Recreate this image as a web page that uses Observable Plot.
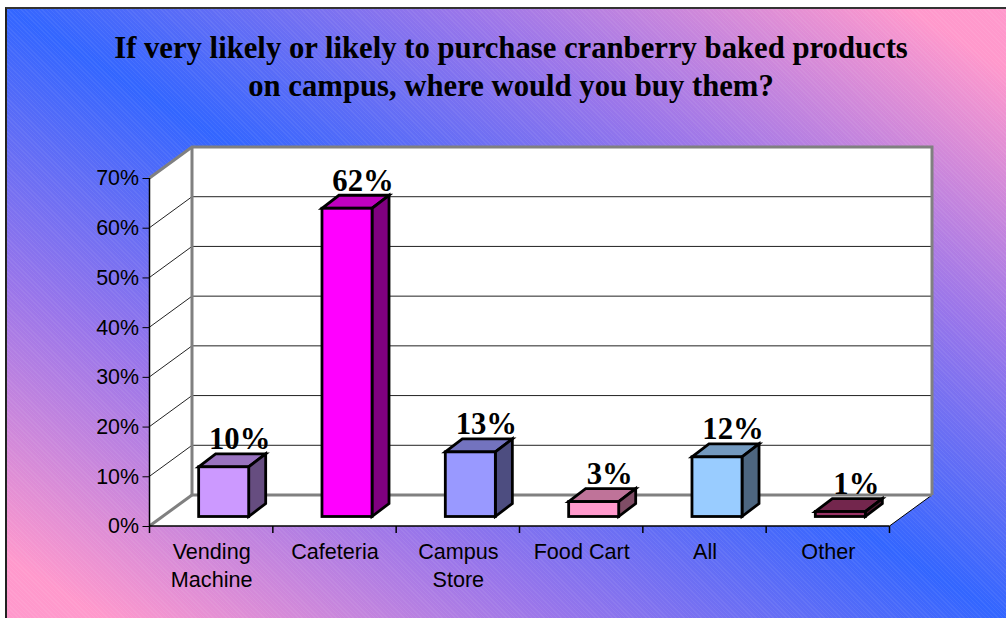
<!DOCTYPE html>
<html>
<head>
<meta charset="utf-8">
<script src="https://cdn.jsdelivr.net/npm/d3@7"></script>
<script src="https://cdn.jsdelivr.net/npm/@observablehq/plot@0.6"></script>
<style>
  html, body { margin: 0; padding: 0; background: #fff; overflow: hidden; }
  #page { position: relative; width: 1006px; height: 618px; overflow: hidden; }
  /* Slide background: blue along the main diagonal, pink in the two other corners, with a fine hatch */
  #slide {
    position: absolute; left: 5px; top: 7px; width: 1003px; height: 613px; box-sizing: border-box;
    border-top: 2px solid #333; border-left: 2px solid #222;
    background:
      repeating-linear-gradient(45deg, rgba(255,255,255,.06) 0 1px, rgba(255,255,255,0) 1px 3px),
      linear-gradient(to top right, #ff99cc 0%, #ff99cc 5%, #9a76ea 27.5%, #3366ff 50%, #9a76ea 72.5%, #ff99cc 95%, #ff99cc 100%);
  }
  #title {
    position: absolute; left: 0; top: 0; width: 1006px; box-sizing: border-box; padding: 29px 0 0 16px;
    text-align: center; font: bold 30.7px/38px "Liberation Serif", serif; color: #000; white-space: nowrap;
  }
  #chart { position: absolute; left: 0; top: 118px; }
</style>
</head>
<body>
<div id="page">
  <div id="slide"></div>
  <div id="title">If very likely or likely to purchase cranberry baked products<br>on campus, where would you buy them?</div>
  <div id="chart"></div>
</div>
<script>
const categories = ["Vending\nMachine", "Cafeteria", "Campus\nStore", "Food Cart", "All", "Other"];
const shares = [10, 62, 13, 3, 12, 1];
const faceColors = ["#cc99ff", "#ff00ff", "#9999ff", "#ff99cc", "#99ccff", "#993366"];
const yTicks = [0, 10, 20, 30, 40, 50, 60, 70];

const rows = categories.map((category, i) => ({category, share: shares[i]}));

// Oblique projection of the chart box, in pixels
const wall = {dx: 42.5, dy: -31};     // front plane to back wall
const barPlane = {dx: 12.5, dy: -9.5};  // front plane to the bars' front faces
const barDepth = {dx: 17, dy: -13};   // thickness of each bar
const barInset = 36.65;

const shade = (color, k) => {
  const c = d3.rgb(color);
  return d3.rgb(c.r * k, c.g * k, c.b * k).formatHex();
};
const poly = (g, pts) => g.append("polygon").attr("points", pts.map(p => p.join(",")).join(" "));
const seg = (g, a, b) => g.append("line").attr("x1", a[0]).attr("y1", a[1]).attr("x2", b[0]).attr("y2", b[1]);

// Side wall, floor and back wall with their grid lines, and the category ticks
function chartBox(index, {x, y}) {
  const g = d3.create("svg:g");
  const bw = x.bandwidth();
  const left = x(categories[0]), right = x(categories[categories.length - 1]) + bw;
  const y0 = y(0), yT = y(70);
  const back = ([px, py]) => [px + wall.dx, py + wall.dy];
  const fl = [left, y0], fr = [right, y0], tl = [left, yT], tr = [right, yT];

  poly(g, [fl, back(fl), back(tl), tl]).attr("fill", "#fff");
  poly(g, [fl, fr, back(fr), back(fl)]).attr("fill", "#fff");
  poly(g, [back(fl), back(fr), back(tr), back(tl)]).attr("fill", "#fff");

  const grid = g.append("g").attr("stroke", "#222").attr("stroke-width", 1);
  for (const t of yTicks.slice(1, -1)) {
    seg(grid, [left, y(t)], back([left, y(t)]));
    seg(grid, back([left, y(t)]), back([right, y(t)]));
  }
  seg(grid, fr, back(fr)).attr("stroke", "#000");

  const edge = g.append("g").attr("stroke", "#808080").attr("stroke-width", 3).attr("fill", "none");
  edge.append("polyline").attr("points", [tl, back(tl), back(tr), back(fr)].map(p => p.join(",")).join(" "));
  seg(edge, back(fl), back(tl));
  seg(edge, back(fl), back(fr));
  seg(edge, fl, back(fl));

  const axis = g.append("g").attr("stroke", "#000").attr("stroke-width", 1.5);
  seg(axis, tl, fl);
  seg(axis, fl, fr);
  for (let i = 0; i <= categories.length; i++) {
    const px = left + i * bw;
    seg(axis, [px, y0], [px, y0 + 7]);
  }
  return g.node();
}

// Top and side faces of each bar, extruded behind its front face
function barFaces(index, {x, y}) {
  const g = d3.create("svg:g").attr("stroke", "#000").attr("stroke-width", 2.8).attr("stroke-linejoin", "miter");
  const bw = x.bandwidth();
  rows.forEach((r, i) => {
    const xa = x(r.category) + barInset + barPlane.dx;
    const xb = x(r.category) + bw - barInset + barPlane.dx;
    const yt = y(r.share) + barPlane.dy;
    const yb = y(0) + barPlane.dy;
    const {dx, dy} = barDepth;
    poly(g, [[xa, yt], [xb, yt], [xb + dx, yt + dy], [xa + dx, yt + dy]]).attr("fill", shade(faceColors[i], 0.75));
    poly(g, [[xb, yt], [xb, yb], [xb + dx, yb + dy], [xb + dx, yt + dy]]).attr("fill", shade(faceColors[i], 0.5));
  });
  return g.node();
}

const chart = Plot.plot({
  width: 1006,
  height: 500,
  marginTop: 60,
  marginBottom: 92,
  marginLeft: 149.5,
  marginRight: 116.5,
  style: {background: "transparent", fontFamily: "'Liberation Sans', Arial, sans-serif", color: "#000", overflow: "visible"},
  x: {domain: categories, padding: 0, round: false, label: null, axis: null},
  y: {domain: [0, 70], label: null, axis: null},
  color: {domain: categories, range: faceColors},
  marks: [
    chartBox,
    Plot.axisY({ticks: yTicks, tickSize: 7, tickPadding: 4, fontSize: 21.4, tickFormat: d => d + "%", label: null}),
    Plot.axisX({tickSize: 0, tickPadding: 12, fontSize: 21.6, lineHeight: 1.32, lineAnchor: "top", label: null, tickFormat: d => d}),
    barFaces,
    Plot.barY(rows, {
      x: "category", y: "share", fill: "category",
      stroke: "#000", strokeWidth: 2.8,
      insetLeft: barInset, insetRight: barInset,
      dx: barPlane.dx, dy: barPlane.dy
    }),
    Plot.text(rows, {
      x: "category", y: "share", text: d => d.share + "%",
      dx: 28, dy: barPlane.dy - 18,
      lineAnchor: "bottom", textAnchor: "middle",
      fontFamily: "'Liberation Serif', serif", fontWeight: "bold", fontSize: 30.7, fill: "#000"
    })
  ]
});
document.getElementById("chart").append(chart);
</script>
</body>
</html>
